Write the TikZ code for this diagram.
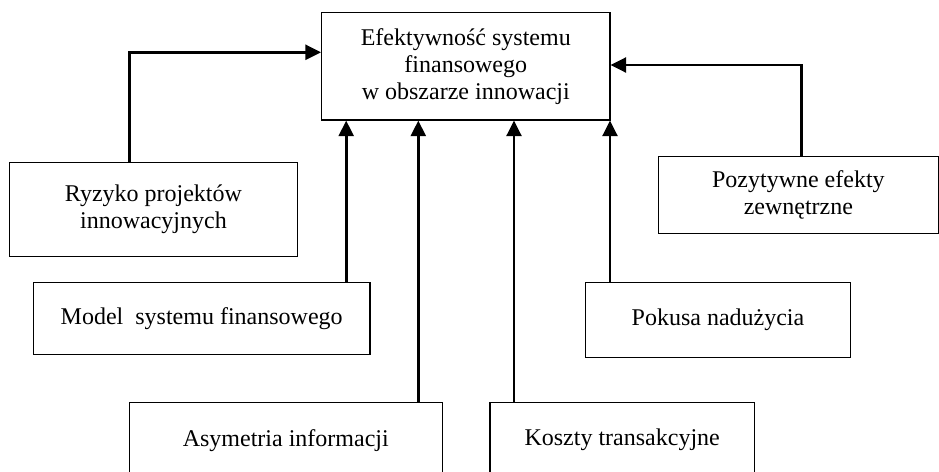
\documentclass[tikz,border=0pt]{standalone}
\usepackage{fontspec}
\setmainfont{Liberation Serif}
\usetikzlibrary{arrows.meta}

\begin{document}
\begin{tikzpicture}[x=0.5pt, y=-0.5pt, line join=miter,
  box/.style={draw, line width=0.6pt, inner sep=0pt, align=center,
    font=\fontsize{12}{13.5}\selectfont},
  arr/.style={line width=1.3pt, -{Triangle[length=7.8pt,width=7.5pt]}}]
  \useasboundingbox (0,0) rectangle (939,472);
  % central box
  \node[box, minimum width=144.2pt, minimum height=53.8pt] (eff) at (465.8,66.2)
    {Efektywność systemu\\finansowego\\w obszarze innowacji};
  % factors
  \node[box, minimum width=144.2pt, minimum height=47.2pt] (ryz) at (153.5,209.5)
    {Ryzyko projektów\\innowacyjnych};
  \node[box, minimum width=168.3pt, minimum height=36pt] (model) at (201.7,318.3)
    {Model\ \ systemu finansowego};
  \node[box, minimum width=156.5pt, minimum height=37.9pt] (asy) at (285.8,440.2)
    {Asymetria informacji};
  \node[box, minimum width=132.2pt, minimum height=37.9pt] (kosz) at (622.2,440.2)
    {Koszty transakcyjne};
  \node[box, minimum width=132.3pt, minimum height=37.4pt] (pok) at (718,319.7)
    {Pokusa nadużycia};
  \node[box, minimum width=140.1pt, minimum height=38.3pt] (poz) at (798.4,195)
    {Pozytywne efekty\\zewnętrzne};
  % connectors
  \coordinate (rk) at (129.3,52.3);
  \coordinate (pk) at (801.7,65);
  \draw[arr] (ryz.north -| rk) |- (eff.west |- rk);
  \draw[arr] (poz.north -| pk) |- (eff.east |- pk);
  \foreach \src/\x in {model/346.2, asy/418.3, kosz/514, pok/610}{
    \coordinate (v) at (\x,0);
    \draw[arr] (\src.north -| v) -- (eff.south -| v);
  }
\end{tikzpicture}
\end{document}
